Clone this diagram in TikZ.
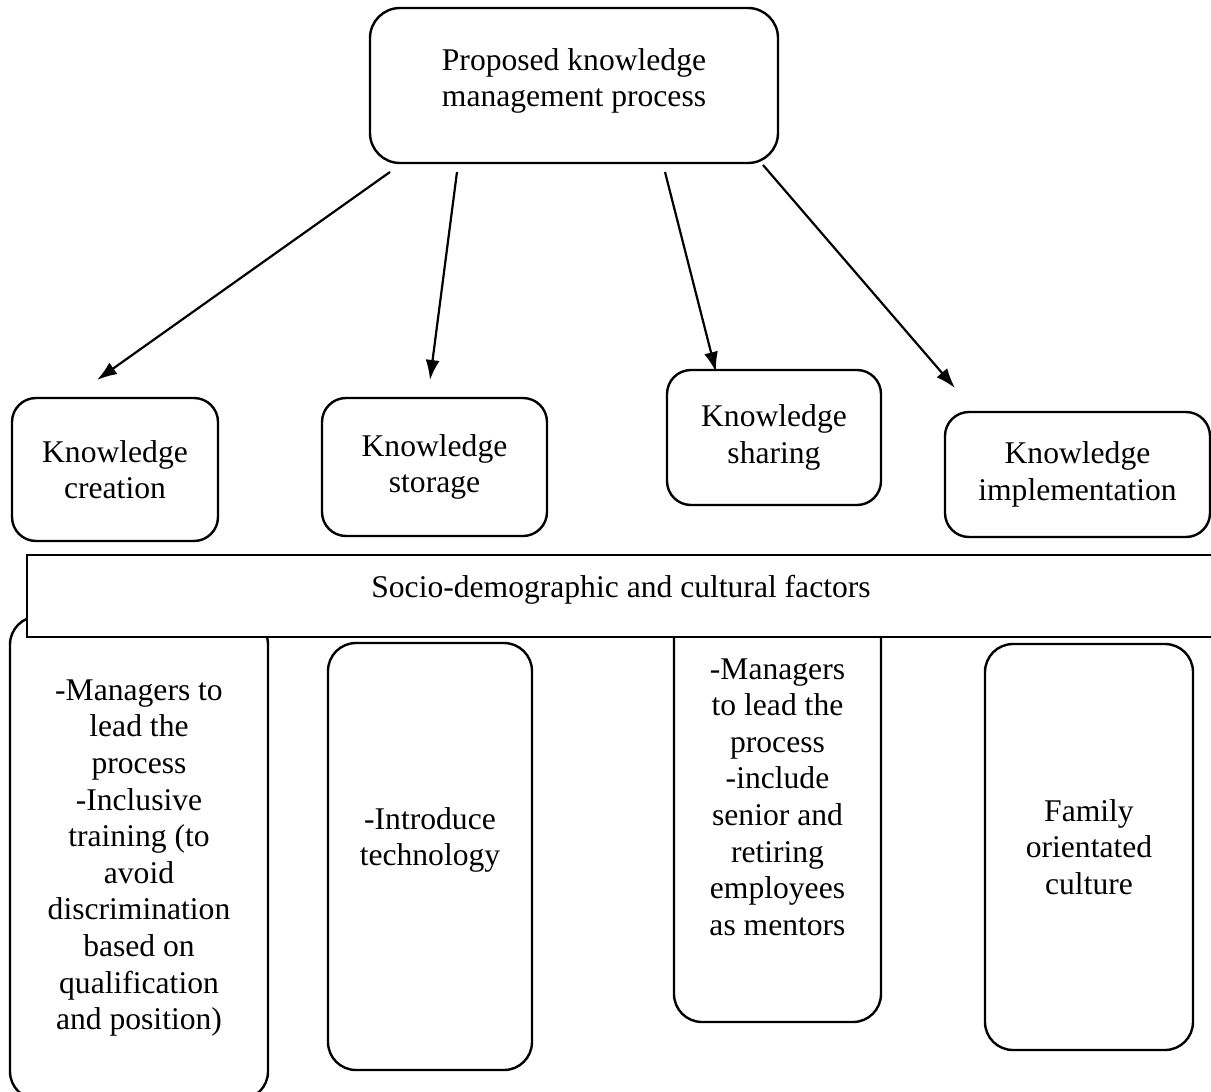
\documentclass[tikz,border=0pt]{standalone}
\usepackage{fontspec}
\setmainfont{Liberation Serif}
\usetikzlibrary{arrows.meta}
\tikzstyle{box} = [draw, rounded corners=12pt, line width=1.2pt, align=center, inner sep=0pt]
\tikzstyle{band} = [draw, fill=white, line width=1pt, inner sep=0pt]
\tikzstyle{arr} = [line width=1.1pt, -{Latex[length=10pt,width=7pt]}]

\begin{document}
\begin{tikzpicture}[x=0.5pt, y=-0.5pt, font=\fontsize{15.8pt}{18.3pt}\selectfont]
  \useasboundingbox (0,0) rectangle (1211,1092);

  % top and the four steps
  \node[box, rounded corners=15pt, minimum width=204pt, minimum height=77.5pt] (proc) at (574,85.5) {};
  \node[align=center, inner sep=0pt] (procTxt) at (574,81) {Proposed knowledge\\management process};
  \node[box, minimum width=103pt, minimum height=71.5pt] (creation) at (115,469.5) {Knowledge\\creation};
  \node[box, minimum width=112.5pt, minimum height=69pt] (storage) at (434.5,467) {Knowledge\\storage};
  \node[box, minimum width=107pt, minimum height=67.5pt] (sharing) at (774,437.5) {Knowledge\\sharing};
  \node[box, minimum width=132.5pt, minimum height=62.5pt] (implement) at (1077.5,474.5) {Knowledge\\implementation};

  % arrow ends (they stop short of the boxes)
  \coordinate (c1) at (390,172);  \coordinate (e1) at (97,380);
  \coordinate (c2) at (457,172);  \coordinate (e2) at (430,380);
  \coordinate (c3) at (665,172);  \coordinate (e3) at (716,372);
  \coordinate (c4) at (763,165);  \coordinate (e4) at (955,388);
  \draw[arr] (c1) -- (e1);
  \draw[arr] (c2) -- (e2);
  \draw[arr] (c3) -- (e3);
  \draw[arr] (c4) -- (e4);

  % factor boxes, the band is drawn over their tops
  \node[box, rounded corners=14pt, minimum width=129pt, minimum height=241.5pt] (creaFac) at (139,858)
    {-Managers to\\lead the\\process\\-Inclusive\\training (to\\avoid\\discrimination\\based on\\qualification\\and position)};
  \node[box, rounded corners=14pt, minimum width=102pt, minimum height=213.5pt] (storFac) at (430,856.5) {};
  \node[align=center, inner sep=0pt] (storTxt) at (430,840) {-Introduce\\technology};
  \node[box, rounded corners=14pt, minimum width=103.5pt, minimum height=225pt] (sharFac) at (777.5,797)
    {-Managers\\to lead the\\process\\-include\\senior and\\retiring\\employees\\as mentors};
  \node[box, rounded corners=14pt, minimum width=104pt, minimum height=203pt] (implFac) at (1089,847)
    {Family\\orientated\\culture};

  \node[band, minimum width=594pt, minimum height=41pt] (socio) at (621,596) {};
  \node[inner sep=0pt] (socioTxt) at (621,590) {Socio-demographic and cultural factors};
\end{tikzpicture}
\end{document}
